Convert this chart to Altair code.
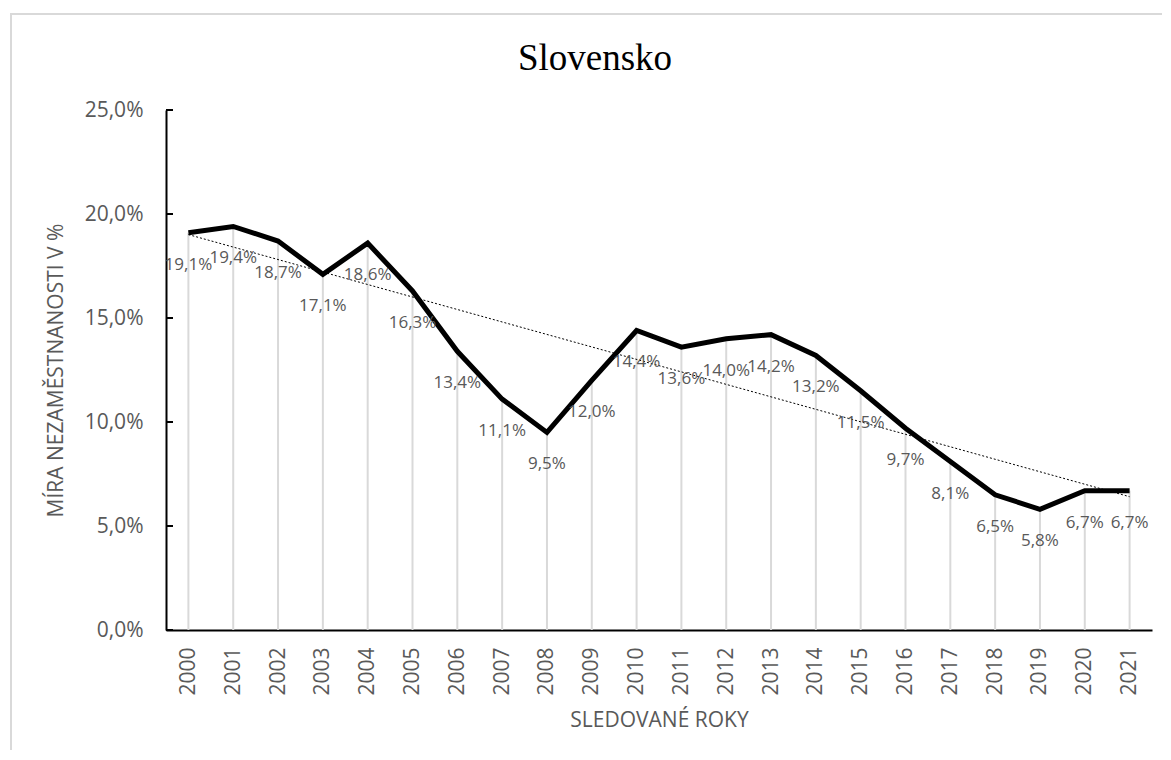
import altair as alt
import pandas as pd

years = list(range(2000, 2022))
rates = [19.1, 19.4, 18.7, 17.1, 18.6, 16.3, 13.4, 11.1, 9.5, 12.0, 14.4,
         13.6, 14.0, 14.2, 13.2, 11.5, 9.7, 8.1, 6.5, 5.8, 6.7, 6.7]
y_ticks = [0, 5, 10, 15, 20, 25]

title_text = "Slovensko"
x_title = "SLEDOVANÉ ROKY"
y_title = "MÍRA NEZAMĚSTNANOSTI V %"

df = pd.DataFrame({"year": years, "value": rates})
ticks_df = pd.DataFrame({"value": y_ticks})

FONT = "Open Sans"
GREY = "#595959"

x_enc = alt.X(
    "year:Q",
    scale=alt.Scale(domain=[1999.5, 2021.5], nice=False, zero=False),
    title=x_title,
    axis=alt.Axis(
        values=years, format="d", labelAngle=-90, labelPadding=17, ticks=False,
        domainColor="black", domainWidth=2, grid=False,
        labelColor=GREY, labelFontSize=21, labelFont=FONT, labelOverlap=False,
        labelFlush=False,
        titleX=493, titleY=90, titleAlign="center", titleBaseline="middle",
        titleFontSize=21, titleColor=GREY, titleFontWeight="normal", titleFont=FONT,
    ),
)
y_enc = alt.Y(
    "value:Q",
    scale=alt.Scale(domain=[0, 25], nice=False, zero=True),
    title=y_title,
    axis=alt.Axis(
        values=y_ticks,
        labelExpr="replace(format(datum.value, '.1f'), '.', ',') + '%'",
        ticks=False, labelPadding=23, domainColor="black", domainWidth=2, grid=False,
        labelColor=GREY, labelFontSize=21, labelFont=FONT,
        titleX=-110, titleY=260, titleAngle=270, titleAlign="center", titleBaseline="middle",
        titleFontSize=21, titleColor=GREY, titleFontWeight="normal", titleFont=FONT,
    ),
)

base = alt.Chart(df).encode(x=x_enc, y=y_enc)

border = alt.Chart(alt.Data(values=[{"k": 1}])).mark_rect(
    fill="white", fillOpacity=0, stroke="#d9d9d9", strokeWidth=2
).encode(
    x=alt.value(-155), x2=alt.value(1040), y=alt.value(-96), y2=alt.value(720)
)

drops = base.mark_rule(color="#d9d9d9", strokeWidth=2).encode(y2=alt.datum(0))
line = base.mark_line(color="black", strokeWidth=5)
trend = base.transform_regression(
    "year", "value", extent=[2000, 2021]
).mark_line(color="black", strokeWidth=1, strokeDash=[2, 2])
labels = base.transform_calculate(
    lbl="replace(format(datum.value, '.1f'), '.', ',') + '%'"
).mark_text(dy=32, fontSize=17, font=FONT, color=GREY, baseline="middle", align="center").encode(
    text="lbl:N"
)
ticks = alt.Chart(ticks_df).mark_rule(color="black", strokeWidth=2).encode(
    y=y_enc, x=alt.value(0), x2=alt.value(7)
)

chart = alt.layer(border, drops, line, trend, labels, ticks).properties(
    width=986,
    height=520,
    title=alt.TitleParams(
        text=title_text, font="Liberation Serif", fontSize=37, fontWeight="normal",
        color="black", anchor="middle", dx=-64, dy=124, offset=30, baseline="alphabetic",
        frame="group",
    ),
    autosize=alt.AutoSizeParams(type="none"),
    padding={"left": 158, "top": 102, "right": 10, "bottom": 120},
    background="white",
).configure_view(stroke=None)

chart.save("out.html", embed_options={"renderer": "svg", "actions": False})
